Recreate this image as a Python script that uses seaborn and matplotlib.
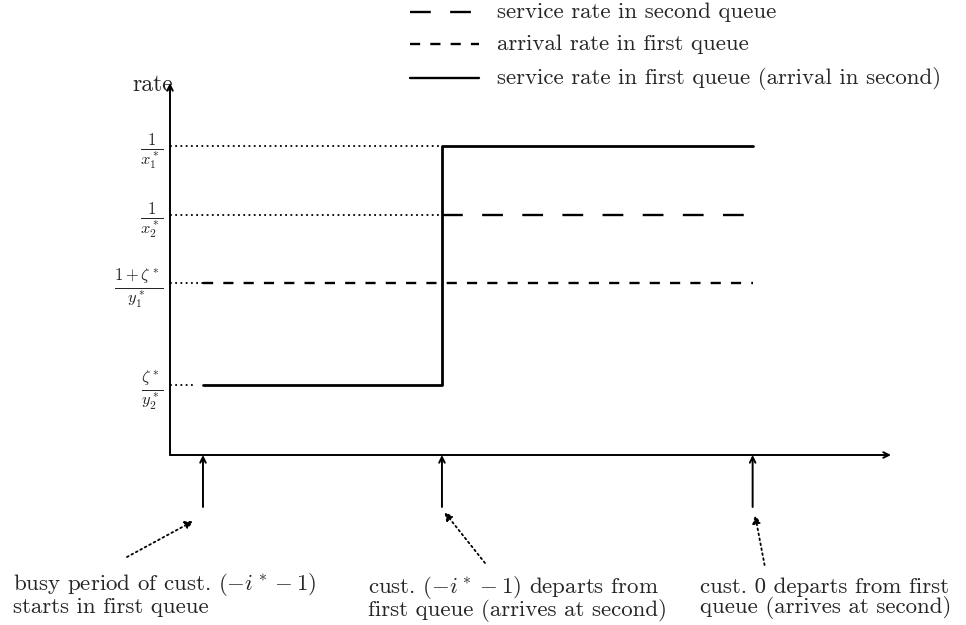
import matplotlib
matplotlib.use('Agg')
import matplotlib.pyplot as plt
import seaborn as sns
import pandas as pd

# event times on the time axis (busy start, departure of -i*-1, departure of 0)
event_t = [0.0, 1.0, 2.3]

# rate levels
level_names = [r'$\frac{1}{x_1^*}$', r'$\frac{1}{x_2^*}$',
               r'$\frac{1+\zeta^*}{y_1^*}$', r'$\frac{\zeta^*}{y_2^*}$']
level_vals = [3.09, 2.40, 1.72, 0.70]

# service rate in first queue (step) / arrival rate first queue / service rate second queue
serv1_t = [0.0, 1.0, 2.3]
serv1_r = [0.70, 3.09, 3.09]
arr1_t = [0.0, 2.3]
arr1_r = [1.72, 1.72]
serv2_t = [1.0, 2.3]
serv2_r = [2.40, 2.40]

legend_labels = ['service rate in second queue',
                 'arrival rate in first queue',
                 'service rate in first queue (arrival in second)']

event_labels = ['busy period of cust. $(-i^* - 1)$\nstarts in first queue',
                'cust. $(-i^* - 1)$ departs from\nfirst queue (arrives at second)',
                'cust. 0 departs from first\nqueue (arrives at second)']

sns.set_style('white')
plt.rcParams['font.family'] = ['cmr10', 'DejaVu Serif']
plt.rcParams['mathtext.fontset'] = 'cm'
plt.rcParams['axes.unicode_minus'] = False

W, H = 966, 625
fig = plt.figure(figsize=(W / 100, H / 100), dpi=100)
# axes frame: y axis at x=170px, x axis at y=455px
ax = fig.add_axes([170 / W, (H - 455) / H, (891 - 170) / W, (455 - 83) / H])
ax.set_xlim(-0.138, 2.879)
ax.set_ylim(0, 3.72)
ax.axis('off')

df1 = pd.DataFrame({'t': serv1_t, 'r': serv1_r})
df2 = pd.DataFrame({'t': arr1_t, 'r': arr1_r})
df3 = pd.DataFrame({'t': serv2_t, 'r': serv2_r})

sns.lineplot(data=df1, x='t', y='r', ax=ax, color='black', lw=2.0,
             drawstyle='steps-post', estimator=None)
sns.lineplot(data=df2, x='t', y='r', ax=ax, color='black', lw=1.7,
             estimator=None, linestyle=(0, (4.3, 4.3)))
sns.lineplot(data=df3, x='t', y='r', ax=ax, color='black', lw=1.7,
             estimator=None, linestyle=(0, (8.8, 8.2)))

# dotted guides from the rate axis
x0 = ax.get_xlim()[0]
guide_end = [1.0, 1.0, 0.0, -0.03]
for v, e in zip(level_vals, guide_end):
    ax.plot([x0, e], [v, v], color='black', lw=1.3, ls=(0, (1, 1.9)))

# rate labels, right-aligned just left of the rate axis
for name, v in zip(level_names, level_vals):
    ax.annotate(name, xy=(x0, v), xytext=(-7, -5), textcoords='offset pixels',
                ha='right', va='center', fontsize=17, annotation_clip=False)
ax.text(x0 + 0.012, 3.70, 'rate', ha='right', va='center', fontsize=17)

# axes with arrows
ax.annotate('', xy=(1, 0), xytext=(0, 0), xycoords='axes fraction',
            arrowprops=dict(arrowstyle='->', lw=1.4, color='black',
                            shrinkA=0, shrinkB=0))
ax.annotate('', xy=(0, 1), xytext=(0, 0), xycoords='axes fraction',
            arrowprops=dict(arrowstyle='->', lw=1.4, color='black',
                            shrinkA=0, shrinkB=0))

# event arrows pointing up at the time axis
for t in event_t:
    ax.annotate('', xy=(t, 0), xytext=(t, -0.52),
                arrowprops=dict(arrowstyle='->', lw=1.4, color='black',
                                shrinkA=0, shrinkB=0),
                annotation_clip=False)

# dotted pointers from the labels
ptr_from = [(-0.318, -1.02), (1.18, -1.08), (2.35, -1.10)]
ptr_to = [(-0.04, -0.66), (1.01, -0.57), (2.31, -0.60)]
for a, b in zip(ptr_from, ptr_to):
    ax.annotate('', xy=b, xytext=a,
                arrowprops=dict(arrowstyle='-|>', lw=1.3, color='black',
                                ls=(0, (1, 1.8)), fc='black',
                                mutation_scale=12, shrinkA=0, shrinkB=0),
                annotation_clip=False)

# event labels (figure pixel positions of the block centre)
label_xy = [(13, 594), (368, 598), (700, 598)]
for (px, py), txt in zip(label_xy, event_labels):
    fig.text(px / W, 1 - py / H, txt, ha='left', va='center', fontsize=16.5,
             linespacing=0.92)

# legend drawn by hand
leg_y = [12, 44, 78]
leg_styles = [(0, (8.8, 8.2)), (0, (4.3, 4.3)), '-']
for y, st, lab in zip(leg_y, leg_styles, legend_labels):
    fig.add_artist(plt.Line2D([410 / W, 479 / W], [1 - y / H, 1 - y / H],
                              color='black', lw=1.7, ls=st))
    fig.text(497 / W, 1 - y / H, lab, ha='left', va='center', fontsize=16.5)

fig.savefig('out.png', dpi=100)
